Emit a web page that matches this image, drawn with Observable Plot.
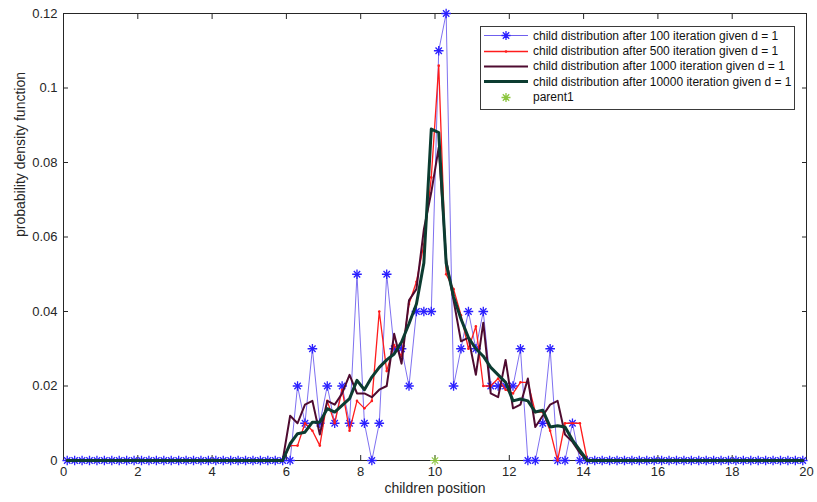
<!DOCTYPE html>
<html>
<head>
<meta charset="utf-8">
<script src="https://cdn.jsdelivr.net/npm/d3@7"></script>
<script src="https://cdn.jsdelivr.net/npm/@observablehq/plot@0.6"></script>
<style>
  body { margin: 0; background: #fff; font-family: "Liberation Sans", Arial, Helvetica, sans-serif; }
  #wrap { position: relative; width: 817px; height: 502px; }
  #legend { position: absolute; left: 480px; top: 26px; width: 315px; height: 84px; box-sizing: border-box;
            border: 1px solid #3a3a3a; background: #fff; font-size: 12px; color: #111; padding-top: 1px; }
  .row { height: 15.4px; display: flex; align-items: center; white-space: nowrap; }
  .row svg { margin-left: 2px; margin-right: 4px; flex: none; }
</style>
</head>
<body>
<div id="wrap">
  <div id="chart"></div>
  <div id="legend"></div>
</div>
<script>
// x grid: bin centres 0.1, 0.3, ..., 19.9
const xPos = d3.range(100).map(i => +(0.1 + 0.2 * i).toFixed(1));

const xTicks = [0, 2, 4, 6, 8, 10, 12, 14, 16, 18, 20];
const yTicks = [0, 0.02, 0.04, 0.06, 0.08, 0.1, 0.12];

const seriesNames = [
  "child distribution after 100 iteration given d = 1",
  "child distribution after 500 iteration given d = 1",
  "child distribution after 1000 iteration given d = 1",
  "child distribution after 10000 iteration given d = 1",
  "parent1"
];

const iter100 = [
  0,0,0,0,0,0,0,0,0,0,0,0,0,0,0,0,0,0,0,0,0,0,0,0,0,0,0,0,0,0,
  0,.02,.01,.03,.01,.02,.01,.02,.01,.05,.01,0,.01,.05,.03,.03,.02,.04,.04,.04,
  .11,.12,.02,.03,.04,.03,.04,.02,.02,.02,.02,.03,0,0,.01,.03,0,0,.01,0,
  0,0,0,0,0,0,0,0,0,0,0,0,0,0,0,0,0,0,0,0,0,0,0,0,0,0,0,0,0,0
];
const iter500 = [
  0,0,0,0,0,0,0,0,0,0,0,0,0,0,0,0,0,0,0,0,0,0,0,0,0,0,0,0,0,0,
  .004,.004,.010,.008,.004,.016,.010,.019,.008,.016,.014,.016,.040,.024,.031,.028,.042,.048,.058,.076,
  .106,.050,.046,.039,.030,.036,.020,.020,.022,.019,.018,.021,.021,.013,.013,.008,0,.010,.010,.010,
  0,0,0,0,0,0,0,0,0,0,0,0,0,0,0,0,0,0,0,0,0,0,0,0,0,0,0,0,0,0
];
const iter1000 = [
  0,0,0,0,0,0,0,0,0,0,0,0,0,0,0,0,0,0,0,0,0,0,0,0,0,0,0,0,0,0,
  .012,.010,.015,.016,.007,.016,.015,.018,.023,.018,.018,.017,.019,.020,.034,.026,.043,.046,.062,.072,
  .084,.054,.043,.032,.033,.023,.037,.018,.017,.027,.014,.015,.022,.009,.012,.015,.016,.007,.005,.002,
  0,0,0,0,0,0,0,0,0,0,0,0,0,0,0,0,0,0,0,0,0,0,0,0,0,0,0,0,0,0
];
const iter10000 = [
  0,0,0,0,0,0,0,0,0,0,0,0,0,0,0,0,0,0,0,0,0,0,0,0,0,0,0,0,0,0,
  .0045,.0072,.0076,.0103,.0103,.0139,.013,.0148,.0166,.0215,.019,.0224,.025,.027,.0286,.0318,.0367,.042,.053,.089,
  .088,.053,.044,.038,.033,.030,.028,.025,.023,.021,.016,.0165,.016,.013,.0135,.009,.0093,.009,.0055,.0027,
  0,0,0,0,0,0,0,0,0,0,0,0,0,0,0,0,0,0,0,0,0,0,0,0,0,0,0,0,0,0
];
const parentX = [10];
const parentY = [0];

const colors = {
  blueLine: "#6f60ee", blueStar: "#2a1fff",
  red: "#ff1c1c", maroon: "#4e0b30", teal: "#0c3c31", parent: "#8cc63f"
};

const rows = (ys) => xPos.map((x, i) => ({x, y: ys[i]}));
const d100 = rows(iter100), d500 = rows(iter500), d1000 = rows(iter1000), d10000 = rows(iter10000);
const dParent = parentX.map((x, i) => ({x, y: parentY[i]}));

const font = "'Liberation Sans', Arial, Helvetica, sans-serif";

const chart = Plot.plot({
  width: 817, height: 502,
  marginLeft: 63, marginRight: 11, marginTop: 13, marginBottom: 42,
  x: {domain: [0, 20]},
  y: {domain: [0, 0.12]},
  style: {fontFamily: font, fontSize: "13px", color: "#262626", background: "#fff"},
  marks: [
    Plot.axisX({anchor: "bottom", ticks: xTicks, tickSize: -5, tickPadding: 11, label: null, stroke: "#262626"}),
    Plot.axisX({anchor: "top", ticks: xTicks, tickSize: -5, tickFormat: () => "", label: null, stroke: "#262626"}),
    Plot.axisY({anchor: "left", ticks: yTicks, tickSize: -5, tickPadding: 11, tickFormat: d => String(d), label: null, stroke: "#262626"}),
    Plot.axisY({anchor: "right", ticks: yTicks, tickSize: -5, tickFormat: () => "", label: null, stroke: "#262626"}),
    Plot.frame({stroke: "#262626", strokeWidth: 1}),
    Plot.text(["children position"], {frameAnchor: "bottom", dy: 32, fontSize: 14, fill: "#262626"}),
    Plot.text(["probability density function"], {frameAnchor: "left", dx: -43, rotate: -90, fontSize: 14, fill: "#262626"}),

    Plot.line(d100, {x: "x", y: "y", stroke: colors.blueLine, strokeWidth: 0.9}),
    Plot.dot(d100, {x: "x", y: "y", symbol: "plus", r: 3.2, stroke: colors.blueStar, strokeWidth: 1.3}),
    Plot.dot(d100, {x: "x", y: "y", symbol: "times", r: 3.0, stroke: colors.blueStar, strokeWidth: 1.3}),

    Plot.line(d500, {x: "x", y: "y", stroke: colors.red, strokeWidth: 1.3}),
    Plot.dot(d500, {x: "x", y: "y", r: 1.3, fill: colors.red}),

    Plot.line(d1000, {x: "x", y: "y", stroke: colors.maroon, strokeWidth: 2}),
    Plot.line(d10000, {x: "x", y: "y", stroke: colors.teal, strokeWidth: 3}),

    Plot.dot(dParent, {x: "x", y: "y", symbol: "plus", r: 3.2, stroke: colors.parent, strokeWidth: 1.1}),
    Plot.dot(dParent, {x: "x", y: "y", symbol: "times", r: 3.0, stroke: colors.parent, strokeWidth: 1.1})
  ]
});
document.getElementById("chart").appendChild(chart);

// legend
const star = (c) => `<path d="M23,3V12M18.5,7.5H27.5M19.8,4.3L26.2,10.7M19.8,10.7L26.2,4.3" stroke="${c}" stroke-width="1.3" fill="none"/>`;
const samples = [
  `<line x1="1" x2="45" y1="7.5" y2="7.5" stroke="${colors.blueLine}" stroke-width="1"/>` + star(colors.blueStar),
  `<line x1="1" x2="45" y1="7.5" y2="7.5" stroke="${colors.red}" stroke-width="1.3"/><circle cx="23" cy="7.5" r="1.3" fill="${colors.red}"/>`,
  `<line x1="1" x2="45" y1="7.5" y2="7.5" stroke="${colors.maroon}" stroke-width="2"/>`,
  `<line x1="1" x2="45" y1="7.5" y2="7.5" stroke="${colors.teal}" stroke-width="3"/>`,
  star(colors.parent)
];
const leg = document.getElementById("legend");
seriesNames.forEach((name, i) => {
  const row = document.createElement("div");
  row.className = "row";
  row.innerHTML = `<svg width="46" height="15">${samples[i]}</svg>`;
  const span = document.createElement("span");
  span.textContent = name;
  row.appendChild(span);
  leg.appendChild(row);
});
</script>
</body>
</html>
